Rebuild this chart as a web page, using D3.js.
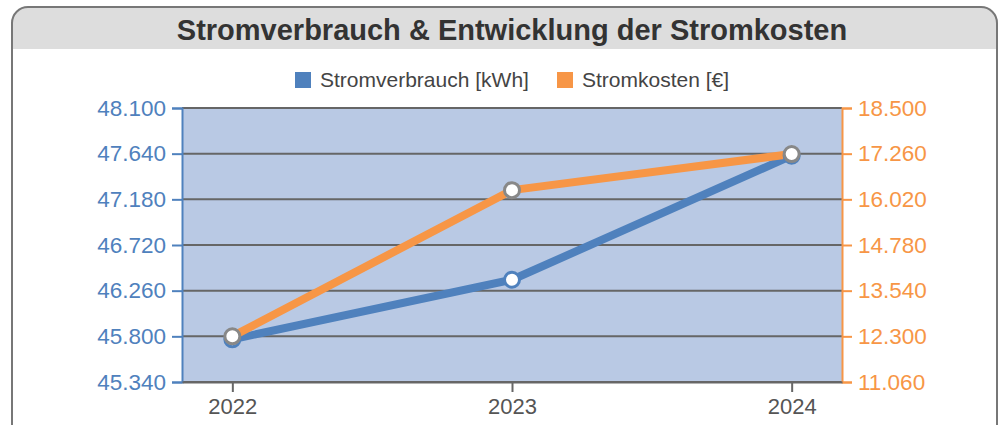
<!DOCTYPE html>
<html>
<head>
<meta charset="utf-8">
<script src="https://cdn.jsdelivr.net/npm/d3@7"></script>
<style>
  body { margin: 0; background: #fff; }
  svg { display: block; font-family: "Liberation Sans", Arial, sans-serif; }
</style>
</head>
<body>
<div id="chart"></div>
<script>
const years = ["2022", "2023", "2024"];
const verbrauch = [45770, 46370, 47620];   // kWh
const kosten = [12300, 16270, 17250];      // €
const kwhTicks = [45340, 45800, 46260, 46720, 47180, 47640, 48100];
const kostenTicks = [11060, 12300, 13540, 14780, 16020, 17260, 18500];

const width = 1000, height = 425;
const blue = "#4f81bd", orange = "#f79646";

const de = d3.formatLocale({decimal: ",", thousands: ".", grouping: [3], currency: ["", "€"]});
const fmt = de.format(",.0f");

const svg = d3.select("#chart")
  .append("svg")
  .attr("width", width)
  .attr("height", height);

// panel + header
svg.append("rect")
  .attr("x", 12).attr("y", 7)
  .attr("width", 985).attr("height", 500)
  .attr("rx", 16)
  .attr("fill", "#ddd")
  .attr("stroke", "#777").attr("stroke-width", 2);
svg.append("rect")
  .attr("x", 13).attr("y", 49)
  .attr("width", 983).attr("height", 460)
  .attr("fill", "#fff");

svg.append("text")
  .attr("x", 512).attr("y", 40)
  .attr("text-anchor", "middle")
  .attr("font-size", 29).attr("font-weight", "bold")
  .attr("fill", "#333")
  .text("Stromverbrauch & Entwicklung der Stromkosten");

// legend
const legend = [
  {name: "Stromverbrauch [kWh]", color: blue, x: 295},
  {name: "Stromkosten [€]", color: orange, x: 557}
];
const lg = svg.selectAll(".legend").data(legend).enter().append("g")
  .attr("transform", d => `translate(${d.x},72)`);
lg.append("rect").attr("width", 16).attr("height", 16).attr("fill", d => d.color);
lg.append("text").attr("x", 25).attr("y", 15)
  .attr("font-size", 21).attr("fill", "#444")
  .text(d => d.name);

const margin = {left: 182, right: 842, top: 108, bottom: 382};

const x = d3.scalePoint().domain(years)
  .range([margin.left, margin.right]).padding(0.18);
const yL = d3.scaleLinear().domain([kwhTicks[0], kwhTicks[kwhTicks.length - 1]])
  .range([margin.bottom, margin.top]);
const yR = d3.scaleLinear().domain([kostenTicks[0], kostenTicks[kostenTicks.length - 1]])
  .range([margin.bottom, margin.top]);

svg.append("rect")
  .attr("x", margin.left).attr("y", margin.top)
  .attr("width", margin.right - margin.left)
  .attr("height", margin.bottom - margin.top)
  .attr("fill", "#b9c9e4");

// grid
svg.selectAll(".grid").data(kwhTicks).enter().append("line")
  .attr("x1", margin.left).attr("x2", margin.right)
  .attr("y1", d => yL(d)).attr("y2", d => yL(d))
  .attr("stroke", "#666").attr("stroke-width", 2);

// axes
const axL = svg.append("g").attr("transform", `translate(${margin.left},0)`)
  .call(d3.axisLeft(yL).tickValues(kwhTicks).tickFormat(fmt).tickSize(10).tickPadding(6));
axL.selectAll("line, path").attr("stroke", blue).attr("stroke-width", 2);
axL.selectAll("text").attr("fill", blue).attr("font-size", 22.5).attr("font-family", null);

const axR = svg.append("g").attr("transform", `translate(${margin.right},0)`)
  .call(d3.axisRight(yR).tickValues(kostenTicks).tickFormat(fmt).tickSize(10).tickPadding(6));
axR.selectAll("line, path").attr("stroke", orange).attr("stroke-width", 2);
axR.selectAll("text").attr("fill", orange).attr("font-size", 22.5).attr("font-family", null);

const axB = svg.append("g").attr("transform", `translate(0,${margin.bottom})`)
  .call(d3.axisBottom(x).tickSize(10).tickPadding(6).tickSizeOuter(0));
axB.select("path").attr("stroke", "#666").attr("stroke-width", 2);
axB.selectAll("line").attr("stroke", "#666").attr("stroke-width", 2);
axB.selectAll("text").attr("fill", "#555").attr("font-size", 22).attr("font-family", null);

// lines
const series = [
  {values: verbrauch, y: yL, color: blue, mark: blue},
  {values: kosten, y: yR, color: orange, mark: "#888"}
];
for (const s of series) {
  const line = d3.line().x((d, i) => x(years[i])).y(d => s.y(d));
  svg.append("path").datum(s.values)
    .attr("d", line)
    .attr("fill", "none")
    .attr("stroke", s.color)
    .attr("stroke-width", 8)
    .attr("stroke-linejoin", "round");
}
for (const s of series) {
  svg.selectAll(null).data(s.values).enter().append("circle")
    .attr("cx", (d, i) => x(years[i]))
    .attr("cy", d => s.y(d))
    .attr("r", 7.5)
    .attr("fill", "#fff")
    .attr("stroke", s.mark)
    .attr("stroke-width", 3);
}
</script>
</body>
</html>
